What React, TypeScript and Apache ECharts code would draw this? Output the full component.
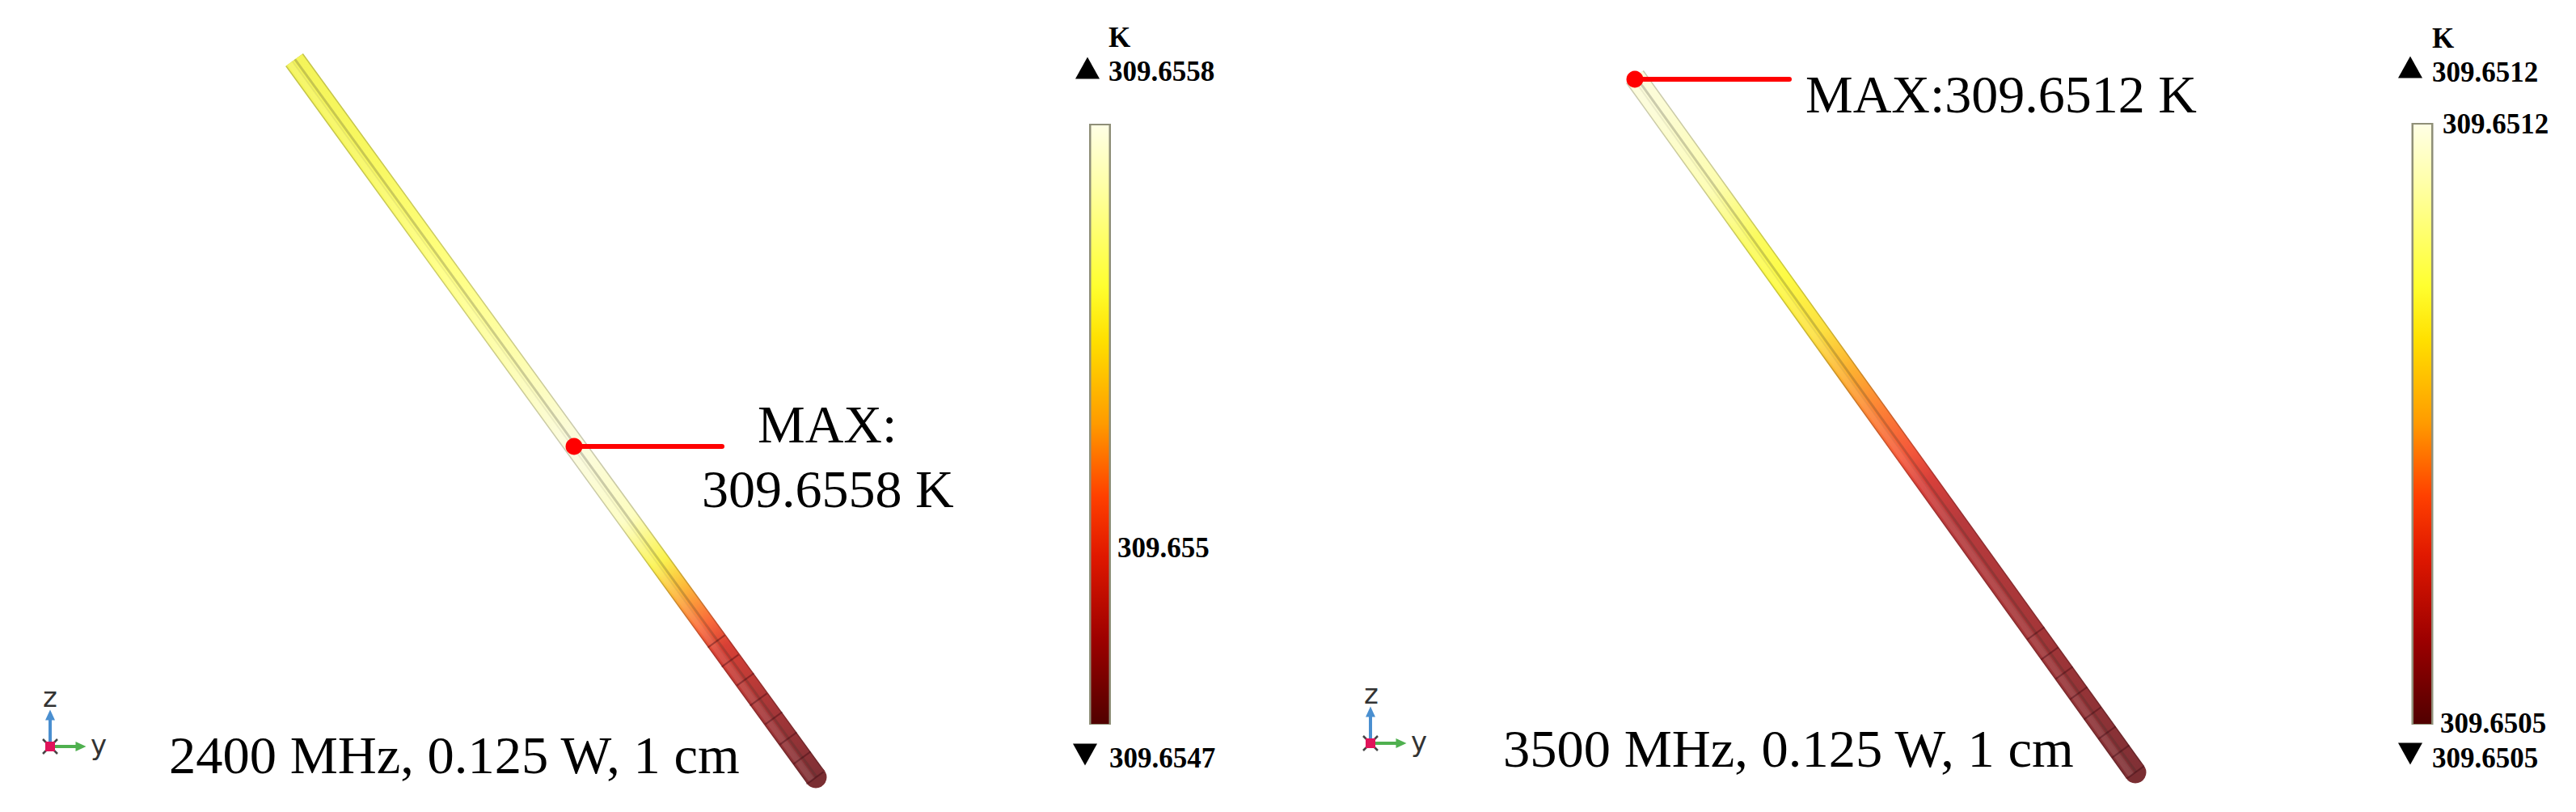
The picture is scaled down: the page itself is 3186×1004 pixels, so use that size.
import React, { useEffect, useRef } from "react";
import * as echarts from "echarts";

const W = 3186;
const H = 1004;

// rods: [top, bottom] in the image's pixel scale
const rodA = [[364, 74], [1009, 961]];
const rodB = [[2022, 95], [2641, 955]];

// temperature colour along each rod: [fraction of length, colour]
const rodAColors: [number, string][] = [
  [0, "#f4f45a"], [0.14, "#f8f860"], [0.29, "#ffff80"], [0.425, "#fdfdb0"], [0.54, "#fbfbdf"],
  [0.64, "#fdfdc0"], [0.7, "#fbf350"], [0.74, "#fdb83a"], [0.787, "#fa6a3a"], [0.82, "#d84035"],
  [0.91, "#a53638"], [1, "#803035"],
];
const rodBColors: [number, string][] = [
  [0, "#fcfcdc"], [0.05, "#fcfcd4"], [0.156, "#fdfdb0"], [0.234, "#fbfb60"], [0.292, "#fdfb45"],
  [0.368, "#fde040"], [0.426, "#fdb030"], [0.484, "#fd8035"], [0.542, "#f5583a"], [0.582, "#d8403a"],
  [0.64, "#b83a3c"], [0.794, "#a53638"], [1, "#803035"],
];

// mesh crossings on the dark end of each rod
const meshA = [[886, 793], [903, 817], [922, 840], [938, 865], [957, 888], [975, 913], [992, 937], [1008, 962]];
const meshB = [[2518, 783], [2535, 808], [2553, 832], [2571, 857], [2588, 882], [2606, 906], [2623, 929], [2641, 955]];

// colour bars
const barA = [[1360.5, 153], [1360.5, 896]];
const barB = [[2996, 152], [2996, 896]];
const barColors: [number, string][] = [
  [0, "#ffffe6"], [0.1, "#ffffa8"], [0.27, "#ffff30"], [0.36, "#ffe000"], [0.5, "#ff9a00"],
  [0.62, "#ff4000"], [0.72, "#e01800"], [0.86, "#9c0000"], [1, "#500000"],
];

// leaders to the hottest point
const leaderA = [[710, 552], [893, 552]];
const leaderB = [[2022, 98], [2213, 98]];

// triads: origin, z tip, y tip
const triadA = [[62, 923], [62, 884], [100, 923]];
const triadB = [[1695, 919], [1695, 880], [1733, 919]];

// range markers: [x, y]
const upMarkers = [[1345, 84], [2981, 83]];
const downMarkers = [[1342, 933], [2981, 932]];

const unitLabels = [["K", 1371, 46], ["K", 3008, 47]];
const scaleLabels = [
  ["309.6558", 1371, 88], ["309.655", 1382, 677], ["309.6547", 1372, 937],
  ["309.6512", 3008, 89], ["309.6512", 3021, 153], ["309.6505", 3018, 894], ["309.6505", 3008, 937],
];
const noteLabels = [["MAX:", 937, 524], ["309.6558 K", 868, 604], ["MAX:309.6512 K", 2233, 116]];
const captionLabels = [["2400 MHz, 0.125 W, 1 cm", 209, 933], ["3500 MHz, 0.125 W, 1 cm", 1859, 925]];
const axisLabels = [["z", 62, 862], ["y", 122, 921], ["z", 1696, 858], ["y", 1755, 917]];

const shade = (hex: string, f: number) => {
  const n = parseInt(hex.slice(1), 16);
  const c = [(n >> 16) & 255, (n >> 8) & 255, n & 255].map((v) => Math.round(v * f));
  return `rgb(${c[0]},${c[1]},${c[2]})`;
};

const gradient = (p: number[][], colors: [number, string][], f = 1) =>
  new echarts.graphic.LinearGradient(
    p[0][0], p[0][1], p[1][0], p[1][1],
    colors.map(([offset, color]) => ({ offset, color: f === 1 ? color : shade(color, f) })),
    true
  );

const line = (data: any[], color: any, width: number, z: number, cap = "butt") => ({
  type: "line", data, z, silent: true, showSymbol: false, symbol: "none", animation: false,
  clip: false, lineStyle: { color, width, cap, opacity: 1 }, itemStyle: { color: "transparent" },
});

const dots = (data: any[], symbol: string, symbolSize: any, color: string, z: number, symbolRotate = 0) => ({
  type: "scatter", z, silent: true, symbol, symbolSize, symbolRotate, data, animation: false,
  itemStyle: { color, opacity: 1 },
});

const shift = (p: number[][], d: number) => {
  const dx = p[1][0] - p[0][0], dy = p[1][1] - p[0][1], l = Math.hypot(dx, dy);
  return p.map(([x, y]) => [x + (d * dy) / l, y - (d * dx) / l]);
};

const meshLines = (rod: number[][], centers: number[][], half: number) => {
  const dx = rod[1][0] - rod[0][0], dy = rod[1][1] - rod[0][1], l = Math.hypot(dx, dy);
  const out: any[] = [];
  centers.forEach(([x, y]) => {
    out.push([x - (half * dy) / l, y + (half * dx) / l], [x + (half * dy) / l, y - (half * dx) / l], ["-", "-"]);
  });
  return out;
};

const rodSeries = (rod: number[][], colors: [number, string][], mesh: number[][], z: number) => [
  line(rod, gradient(rod, colors, 0.8), 27, z),
  line(rod, gradient(rod, colors), 24, z + 1),
  line(shift(rod, -6), "rgba(255,255,255,0.10)", 8, z + 2),
  line(shift(rod, 1), "rgba(50,50,40,0.24)", 3, z + 3),
  line(shift(rod, -3), "rgba(50,50,40,0.08)", 2, z + 3),
  line(meshLines(rod, mesh, 13), "rgba(50,0,10,0.36)", 2, z + 4),
  dots([rod[1]], "circle", 27, shade(colors[colors.length - 1][1], 0.95), z),
];

const barSeries = (bar: number[][]) => [
  line(bar, "#8f8f78", 27, 5),
  line([[bar[0][0], bar[0][1] + 2], [bar[1][0], bar[1][1] - 1]], gradient(bar, barColors), 22, 6),
];

const triadSeries = (t: number[][]) => {
  const [o, zt, yt] = t;
  const d = 9;
  return [
    line([o, zt], "#4a8fd0", 4, 10),
    line([o, yt], "#4fb04f", 4, 10),
    line(
      [[o[0] - d, o[1] - d], [o[0] + d, o[1] + d], ["-", "-"], [o[0] - d, o[1] + d], [o[0] + d, o[1] - d]],
      "#444444", 2.5, 11
    ),
    dots([o], "rect", 12, "#e0145a", 12),
    dots([zt], "triangle", [12, 13], "#4a8fd0", 12),
    dots([yt], "triangle", [12, 13], "#4fb04f", 12, -90),
  ];
};

const leaderSeries = (l: number[][]) => [
  line(l, "#ff0000", 6, 20, "round"),
  dots([l[0]], "circle", 21, "#ff0000", 21),
];

const text = (t: any[], fontSize: number, fontFamily: string, fontWeight: string, fill: string, align = "left") => ({
  type: "text", x: t[1], y: t[2], z: 50,
  style: { text: t[0], fontSize, fontFamily, fontWeight, fill, align, verticalAlign: "middle" },
});

export default function App() {
  const ref = useRef<HTMLDivElement>(null);
  useEffect(() => {
    document.body.style.margin = "0";
    const chart = echarts.init(ref.current!, undefined, { renderer: "svg", width: W, height: H });
    chart.setOption({
      animation: false,
      backgroundColor: "#ffffff",
      grid: { left: 0, right: 0, top: 0, bottom: 0 },
      xAxis: { type: "value", min: 0, max: W, show: false },
      yAxis: { type: "value", min: 0, max: H, inverse: true, show: false },
      tooltip: { show: false },
      series: [
        ...rodSeries(rodA, rodAColors, meshA, 1),
        ...rodSeries(rodB, rodBColors, meshB, 1),
        ...barSeries(barA),
        ...barSeries(barB),
        ...triadSeries(triadA),
        ...triadSeries(triadB),
        ...leaderSeries(leaderA),
        ...leaderSeries(leaderB),
        dots(upMarkers, "triangle", [30, 27], "#000000", 15),
        dots(downMarkers, "triangle", [30, 27], "#000000", 15, 180),
      ],
      graphic: [
        ...unitLabels.map((t) => text(t, 35, "Liberation Serif", "bold", "#000000")),
        ...scaleLabels.map((t) => text(t, 35, "Liberation Serif", "bold", "#000000")),
        ...noteLabels.map((t) => text(t, 66, "Liberation Serif", "normal", "#000000")),
        ...captionLabels.map((t) => text(t, 66.5, "Liberation Serif", "normal", "#000000")),
        ...axisLabels.map((t) => text(t, 34, "DejaVu Sans", "normal", "#333333", "center")),
      ],
    });
    return () => chart.dispose();
  }, []);
  return <div ref={ref} style={{ position: "absolute", left: 0, top: 0, width: W, height: H }} />;
}
